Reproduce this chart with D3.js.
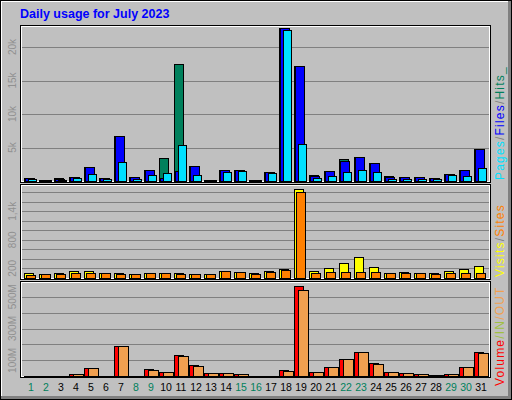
<!DOCTYPE html>
<html><head><meta charset="utf-8">
<script src="https://cdn.jsdelivr.net/npm/d3@7"></script>
<style>body{margin:0;background:#fff}text{font-family:Arial,"Liberation Sans",sans-serif}</style>
</head><body><svg id="c" width="512" height="400"></svg>
<script>
const days = d3.range(1, 32);
const weekends = [1,2,8,9,15,16,22,23,29,30];
const hits  = [400,200,400,650,2100,400,6750,600,1650,3400,17500,2250,200,1650,1650,200,1300,22900,17100,900,1500,3250,3600,2700,750,600,600,400,1050,1650,4800];
const files = [400,200,300,600,2100,400,6700,600,1650,500,1500,2250,200,1650,1600,200,1300,22900,17100,800,1500,3050,3600,2700,600,550,600,400,1050,1650,4800];
const pages = [300,200,200,400,1050,300,2800,350,850,1150,5350,950,200,1350,1450,200,1150,22600,5550,400,750,1350,1650,1350,350,350,350,300,850,750,1950];
const visits= [95,73,95,143,143,95,95,73,95,95,95,73,73,143,120,95,135,185,1863,135,200,310,430,220,95,115,95,95,135,180,240];
const sites = [52,73,73,95,95,95,73,73,95,95,73,73,73,143,120,73,120,165,1800,95,115,115,115,115,95,95,95,73,95,95,95];
const volume= [2,2,2,12,50,2,190,2,45,27,134,71,21,21,14,2,2,40,565,27,58,108,152,83,27,21,14,6,14,58,152];
const volOut= [2,2,2,12,50,2,190,2,39,27,127,64,21,21,14,2,2,33,540,27,58,108,152,77,27,21,14,6,14,58,146];
const topTicks = [5000,10000,15000,20000], topTickLabels = ["5k","10k","15k","20k"];
const midGrid = [200,400,600,800,1000,1200,1400,1600,1800], midTicks=[200,800,1400], midTickLabels=["200","800","1,4k"];
const botGrid = [100,200,300,400,500], botTicks=[100,300,500], botTickLabels=["100M","300M","500M"];

const svg = d3.select("#c");
svg.append("rect").attr("x",0).attr("y",0).attr("width",512).attr("height",400).attr("fill","#000");
svg.append("rect").attr("x",1).attr("y",1).attr("width",510).attr("height",398).attr("fill","#808080");
svg.append("rect").attr("x",1).attr("y",1).attr("width",507).attr("height",395).attr("fill","#fff");
svg.append("rect").attr("x",2).attr("y",2).attr("width",506).attr("height",394).attr("fill","#c0c0c0");
svg.append("text").attr("x",20).attr("y",18).attr("fill","#0000ff").attr("font-weight","bold").attr("font-size",12.5).text("Daily usage for July 2023");

const x = d3.scaleLinear().domain([1,31]).range([24,474]);
const L=20,R=490;
const yT = d3.scaleLinear().domain([0,20000]).range([181,47]);
const yM = d3.scaleLinear().domain([0,1800]).range([277.8,192.3]);
const yB = d3.scaleLinear().domain([0,500]).range([376.3,296.7]);
const panels=[[25,182],[184,279],[281,377]];
panels.forEach(([t,b])=>{
  svg.append("rect").attr("x",L+0.5).attr("y",t+0.5).attr("width",R-L).attr("height",b-t).attr("fill","#c0c0c0").attr("stroke","#000");
  svg.append("rect").attr("x",L+1.5).attr("y",t+1.5).attr("width",R-L-2).attr("height",b-t-2).attr("fill","none").attr("stroke","#fff");
});
function grid(vals,y){vals.forEach(v=>svg.append("line").attr("x1",L+2).attr("x2",R-1).attr("y1",Math.round(y(v))+0.5).attr("y2",Math.round(y(v))+0.5).attr("stroke","#808080"));}
grid(topTicks,yT);grid(midGrid,yM);grid(botGrid,yB);
function ylab(vals,labs,y){vals.forEach((v,i)=>svg.append("text").attr("transform",`translate(16,${y(v)}) rotate(-90)`).attr("text-anchor","middle").attr("fill","#909090").attr("font-size",10).text(labs[i]));}
ylab(topTicks,topTickLabels,yT);ylab(midTicks,midTickLabels,yM);ylab(botTicks,botTickLabels,yB);

function bars(data,y,off,w,color){
  svg.append("g").selectAll("rect").data(data).join("rect")
   .attr("x",(d,i)=>Math.round(x(days[i]))+off+0.5).attr("width",w)
   .attr("y",d=>Math.round(y(d))+0.5).attr("height",d=>Math.max(1,Math.round(y(0))-Math.round(y(d))))
   .attr("fill",color).attr("stroke","#000");
}
bars(hits,yT,0,9,"#00805c");bars(files,yT,1,9,"#0000ff");bars(pages,yT,4,8,"#00e0ff");
bars(visits,yM,0,9,"#ffff00");bars(sites,yM,2,9,"#ff8000");
bars(volume,yB,0,9,"#ff0000");bars(volOut,yB,4,10,"#f0a050");

svg.append("g").selectAll("text").data(days).join("text")
  .attr("x",d=>x(d)+7).attr("y",391).attr("text-anchor","middle").attr("font-size",10.5)
  .attr("fill",d=>weekends.includes(d)?"#00805c":"#000").text(d=>d);

function rlab(y0,parts){
  const t=svg.append("text").attr("transform",`translate(504,${y0}) rotate(-90)`).attr("font-size",12).attr("letter-spacing",1.2);
  parts.forEach(([s,c])=>t.append("tspan").attr("fill",c).text(s));
}
rlab(180,[["Pages","#00e0ff"],["/","#808080"],["Files","#0000ff"],["/","#808080"],["Hits_","#00805c"]]);
rlab(277,[["Visits","#ffff00"],["/","#808080"],["Sites","#ff8000"]]);
rlab(386,[["Volume","#ff0000"],["/IN","#a0c040"],["/OUT","#f0a050"]]);
</script></body></html>
